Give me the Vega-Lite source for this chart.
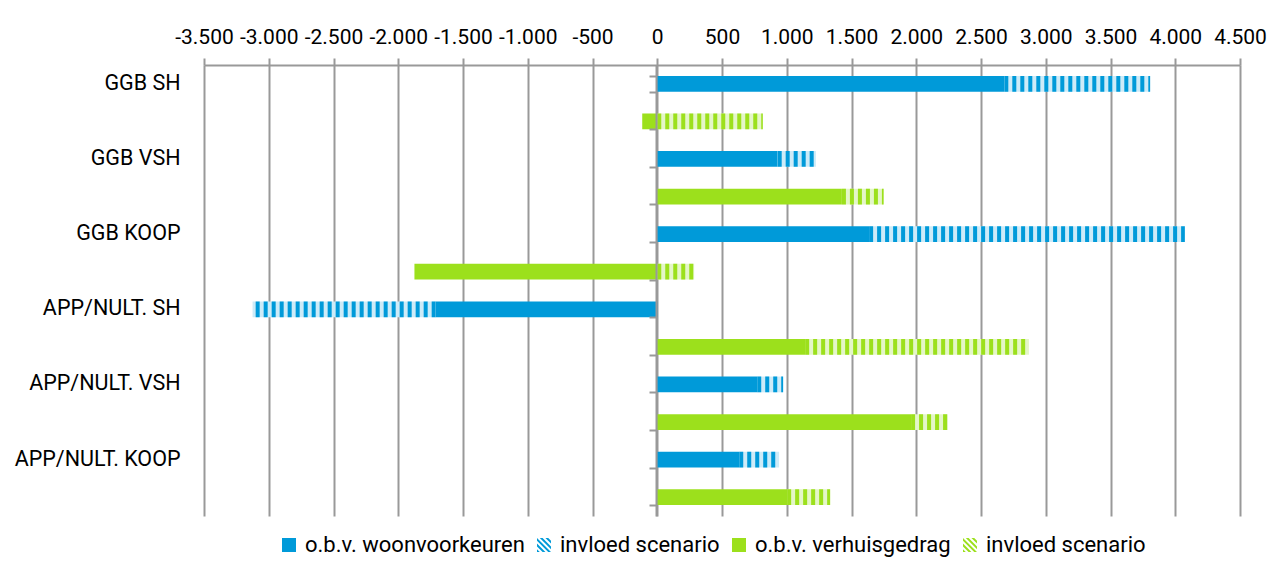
{
  "$schema": "https://vega.github.io/schema/vega-lite/v6.json",
  "width": 1036,
  "height": 451,
  "autosize": "none",
  "padding": {"left": 204, "top": 65, "right": 36, "bottom": 52},
  "background": "white",
  "config": {
    "view": {"stroke": null},
    "font": "Roboto",
    "locale": {"number": {"decimal": ",", "thousands": ".", "grouping": [3], "currency": ["€", ""], "minus": "-"}}
  },
  "data": {
    "values": [
      {"rij": "GGB SH|w", "reeks": "w1", "waarde": 2680},
      {"rij": "GGB SH|w", "reeks": "w2", "waarde": 1126},
      {"rij": "GGB SH|v", "reeks": "v1", "waarde": -116},
      {"rij": "GGB SH|v", "reeks": "v2", "waarde": 815},
      {"rij": "GGB VSH|w", "reeks": "w1", "waarde": 930},
      {"rij": "GGB VSH|w", "reeks": "w2", "waarde": 295},
      {"rij": "GGB VSH|v", "reeks": "v1", "waarde": 1426},
      {"rij": "GGB VSH|v", "reeks": "v2", "waarde": 322},
      {"rij": "GGB KOOP|w", "reeks": "w1", "waarde": 1636},
      {"rij": "GGB KOOP|w", "reeks": "w2", "waarde": 2438},
      {"rij": "GGB KOOP|v", "reeks": "v1", "waarde": -1875},
      {"rij": "GGB KOOP|v", "reeks": "v2", "waarde": 285},
      {"rij": "APP/NULT. SH|w", "reeks": "w1", "waarde": -1711},
      {"rij": "APP/NULT. SH|w", "reeks": "w2", "waarde": -1414},
      {"rij": "APP/NULT. SH|v", "reeks": "v1", "waarde": 1142},
      {"rij": "APP/NULT. SH|v", "reeks": "v2", "waarde": 1728},
      {"rij": "APP/NULT. VSH|w", "reeks": "w1", "waarde": 772},
      {"rij": "APP/NULT. VSH|w", "reeks": "w2", "waarde": 200},
      {"rij": "APP/NULT. VSH|v", "reeks": "v1", "waarde": 1960},
      {"rij": "APP/NULT. VSH|v", "reeks": "v2", "waarde": 285},
      {"rij": "APP/NULT. KOOP|w", "reeks": "w1", "waarde": 633},
      {"rij": "APP/NULT. KOOP|w", "reeks": "w2", "waarde": 308},
      {"rij": "APP/NULT. KOOP|v", "reeks": "v1", "waarde": 1003},
      {"rij": "APP/NULT. KOOP|v", "reeks": "v2", "waarde": 332}
    ]
  },
  "transform": [
    {"stack": "waarde", "groupby": ["rij"], "sort": [{"field": "reeks", "order": "ascending"}], "as": ["x0", "x1"], "offset": "zero"}
  ],
  "layer": [
    {
      "mark": {"type": "bar"},
      "encoding": {
        "y": {
          "field": "rij",
          "type": "nominal",
          "scale": {
            "domain": ["GGB SH|w", "GGB SH|v", "GGB VSH|w", "GGB VSH|v", "GGB KOOP|w", "GGB KOOP|v", "APP/NULT. SH|w", "APP/NULT. SH|v", "APP/NULT. VSH|w", "APP/NULT. VSH|v", "APP/NULT. KOOP|w", "APP/NULT. KOOP|v"],
            "paddingInner": 0.58,
            "paddingOuter": 0.29
          },
          "axis": {
            "orient": "left",
            "domain": false,
            "ticks": false,
            "grid": false,
            "title": null,
            "labelPadding": 24,
            "labelFont": "Roboto",
            "labelFontSize": 21.5,
            "labelColor": "#000000",
            "labelLimit": 300,
            "labelExpr": "split(datum.value, '|')[1] == 'w' ? split(datum.value, '|')[0] : ''"
          }
        },
        "x": {
          "field": "x0",
          "type": "quantitative",
          "scale": {"domain": [-3500, 4500], "nice": false, "zero": false},
          "axis": {
            "orient": "top",
            "values": [-3500, -3000, -2500, -2000, -1500, -1000, -500, 0, 500, 1000, 1500, 2000, 2500, 3000, 3500, 4000, 4500],
            "format": ",d",
            "title": null,
            "labelFont": "Roboto",
            "labelFontSize": 21,
            "labelColor": "#000000",
            "labelPadding": 11,
            "labelOverlap": false,
            "labelFlush": false,
            "tickSize": 7,
            "tickColor": "#999999",
            "tickWidth": 2,
            "domainColor": "#999999",
            "domainWidth": 2,
            "grid": true,
            "gridColor": "#999999",
            "gridWidth": 2,
            "gridOpacity": 1
          }
        },
        "x2": {"field": "x1"},
        "fill": {
          "condition": [
            {"test": "datum.reeks == 'w2'", "value": "#cdebf8"},
            {"test": "datum.reeks == 'v2'", "value": "#e4f6c8"}
          ],
          "field": "reeks",
          "type": "nominal",
          "scale": {"domain": ["w1", "w2", "v1", "v2"], "range": ["#009ad9", "#009ad9", "#9ce01c", "#9ce01c"]},
          "legend": {
            "orient": "none",
            "legendX": 74,
            "legendY": 469,
            "direction": "horizontal",
            "columns": 4,
            "title": null,
            "symbolType": "square",
            "symbolSize": 196,
            "symbolStrokeWidth": 0,
            "symbolOpacity": 1,
            "labelFont": "Roboto",
            "labelFontSize": 22,
            "labelColor": "#000000",
            "labelOffset": 5,
            "labelLimit": 400,
            "columnPadding": 8,
            "labelExpr": "datum.value == 'w1' ? 'o.b.v. woonvoorkeuren' : datum.value == 'v1' ? 'o.b.v. verhuisgedrag' : 'invloed scenario'",
            "encode": {
              "symbols": {
                "update": {
                  "shape": {"signal": "(datum.value == 'w2' || datum.value == 'v2') ? 'M-1,1L-1,0.6L-0.6,1Z M-1,0.2L-1,-0.2L0.2,1L-0.2,1Z M-1,-0.6L-1,-1L1,1L0.6,1Z M-0.6,-1L-0.2,-1L1,0.2L1,0.6Z M0.2,-1L0.6,-1L1,-0.6L1,-0.2Z' : 'square'"}
                }
              }
            }
          }
        }
      }
    },
    {
      "transform": [{"filter": "datum.reeks == 'w2' || datum.reeks == 'v2'"}],
      "mark": {"type": "rule", "strokeWidth": 15.8, "strokeDash": [4, 4], "strokeCap": "butt"},
      "encoding": {
        "y": {
          "field": "rij",
          "type": "nominal",
          "axis": {
            "orient": "left",
            "offset": -452,
            "labels": false,
            "title": null,
            "grid": false,
            "domain": true,
            "domainColor": "#999999",
            "domainWidth": 2,
            "ticks": true,
            "tickBand": "extent",
            "tickSize": 7,
            "tickColor": "#999999",
            "tickWidth": 2,
            "zindex": 1
          }
        },
        "x": {"field": "x0", "type": "quantitative"},
        "x2": {"field": "x1"},
        "stroke": {"condition": {"test": "datum.reeks == 'w2'", "value": "#009ad9"}, "value": "#9ce01c"}
      }
    }
  ],
  "resolve": {"axis": {"y": "independent"}}
}
